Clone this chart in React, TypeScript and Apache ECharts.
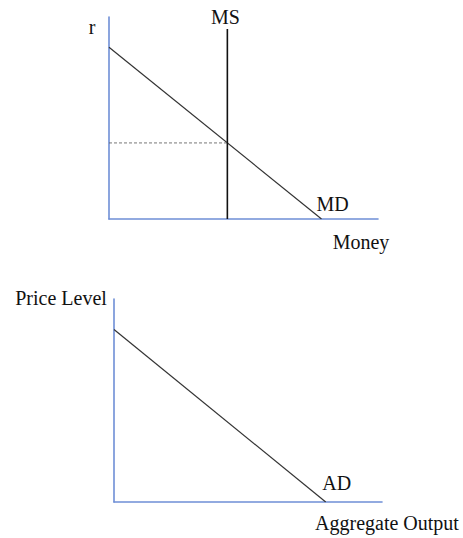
import React, { useEffect, useRef } from "react";
import * as echarts from "echarts";

// Money market (top panel), units 0..100 on both axes
const mdPoints: [number, number][] = [[0, 85], [79, 0]];
const msQuantity = 44;
const msTop = 94;
// Goods market (bottom panel)
const adPoints: [number, number][] = [[0, 85], [79, 0]];

const topLabels = { y: "r", x: "Money", demand: "MD", supply: "MS" };
const bottomLabels = { y: "Price Level", x: "Aggregate Output", demand: "AD" };

const FONT = "Liberation Serif";
const AXIS_BLUE = "#6F8FD6";
const TEXT = "#111";

function interceptAt(points: [number, number][], x: number) {
  const [[x0, y0], [x1, y1]] = points;
  return y0 + ((x - x0) / (x1 - x0)) * (y1 - y0);
}

export default function App() {
  const ref = useRef<HTMLDivElement>(null);
  useEffect(() => {
    if (!ref.current) return;
    const chart = echarts.init(ref.current, null, { renderer: "svg" });
    const eqR = interceptAt(mdPoints, msQuantity);
    const axisCommon = {
      type: "value" as const,
      min: 0,
      max: 100,
      axisLine: { show: true, lineStyle: { color: AXIS_BLUE, width: 1.6 } },
      axisTick: { show: false },
      axisLabel: { show: false },
      splitLine: { show: false },
    };
    const lbl = (text: string, distance: number, offset: [number, number]) => ({
      show: true,
      formatter: text,
      position: "top" as const,
      distance,
      offset,
      color: TEXT,
      fontFamily: FONT,
      fontSize: 20,
    });
    chart.setOption({
      animation: false,
      grid: [
        { left: 109, top: 17, width: 269, height: 202 },
        { left: 114, top: 299, width: 268, height: 203 },
      ],
      xAxis: [
        { ...axisCommon, gridIndex: 0 },
        { ...axisCommon, gridIndex: 1 },
      ],
      yAxis: [
        { ...axisCommon, gridIndex: 0 },
        { ...axisCommon, gridIndex: 1 },
      ],
      series: [
        {
          type: "line",
          xAxisIndex: 0,
          yAxisIndex: 0,
          symbol: "circle",
          symbolSize: 0,
          itemStyle: { color: "transparent" },
          lineStyle: { color: "#333", width: 1.2 },
          data: [
            mdPoints[0],
            { value: mdPoints[1], label: lbl(topLabels.demand, 5, [11, 0]) },
          ],
        },
        {
          type: "line",
          xAxisIndex: 0,
          yAxisIndex: 0,
          symbol: "circle",
          symbolSize: 0,
          itemStyle: { color: "transparent" },
          lineStyle: { color: "#111", width: 1.6 },
          data: [
            [msQuantity, 0],
            { value: [msQuantity, msTop], label: lbl(topLabels.supply, 2, [-2, 0]) },
          ],
        },
        {
          type: "line",
          xAxisIndex: 0,
          yAxisIndex: 0,
          symbol: "none",
          lineStyle: { color: "#555", width: 0.8, type: [3, 2] },
          data: [
            [0, eqR],
            [msQuantity, eqR],
          ],
        },
        {
          type: "line",
          xAxisIndex: 1,
          yAxisIndex: 1,
          symbol: "circle",
          symbolSize: 0,
          itemStyle: { color: "transparent" },
          lineStyle: { color: "#333", width: 1.2 },
          data: [
            adPoints[0],
            { value: adPoints[1], label: lbl(bottomLabels.demand, 9, [11, 0]) },
          ],
        },
      ],
      graphic: [
        {
          type: "text",
          x: 92,
          y: 27,
          style: { text: topLabels.y, font: `20px ${FONT}`, fill: TEXT, align: "center", verticalAlign: "middle" },
        },
        {
          type: "text",
          x: 361,
          y: 242,
          style: { text: topLabels.x, font: `20px ${FONT}`, fill: TEXT, align: "center", verticalAlign: "middle" },
        },
        {
          type: "text",
          x: 61,
          y: 298,
          style: { text: bottomLabels.y, font: `20px ${FONT}`, fill: TEXT, align: "center", verticalAlign: "middle" },
        },
        {
          type: "text",
          x: 387,
          y: 523,
          style: { text: bottomLabels.x, font: `20px ${FONT}`, fill: TEXT, align: "center", verticalAlign: "middle" },
        },
      ],
    });
    return () => chart.dispose();
  }, []);
  return (
    <div
      ref={ref}
      style={{ position: "fixed", left: 0, top: 0, width: 463, height: 538, background: "#fff" }}
    />
  );
}
